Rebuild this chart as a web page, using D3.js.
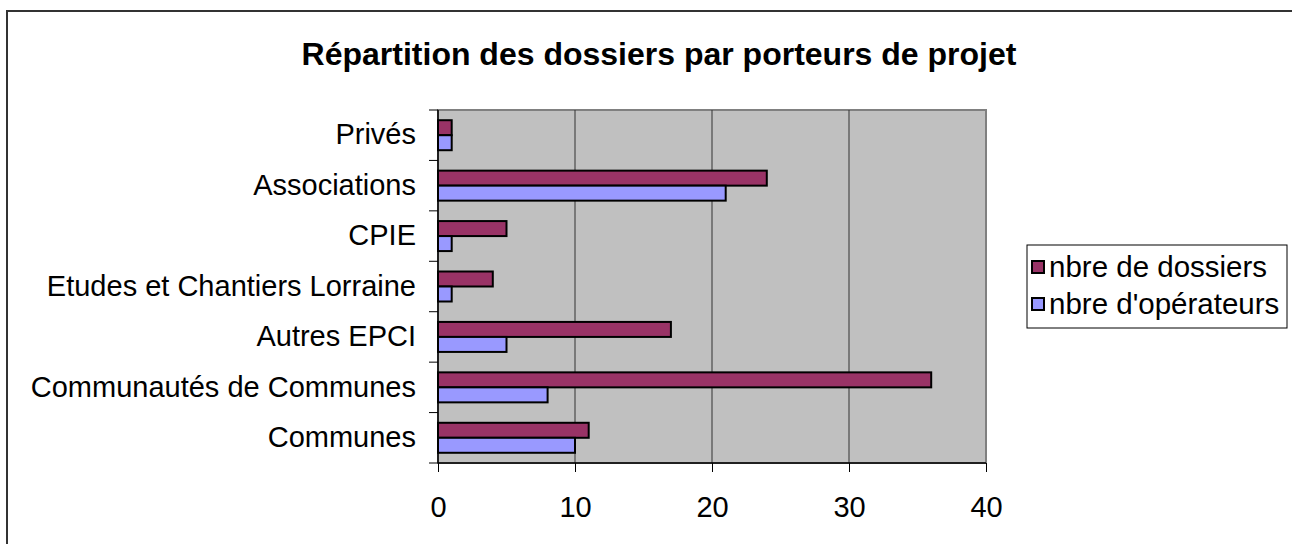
<!DOCTYPE html>
<html>
<head>
<meta charset="utf-8">
<script src="https://cdn.jsdelivr.net/npm/d3@7"></script>
<style>
  body { margin: 0; background: #fff; }
  svg { display: block; font-family: "Liberation Sans", Arial, sans-serif; }
</style>
</head>
<body>
<div id="chart"></div>
<script>
const categories = ['Privés', 'Associations', 'CPIE', 'Etudes et Chantiers Lorraine', 'Autres EPCI', 'Communautés de Communes', 'Communes']
const dossiers = [1, 24, 5, 4, 17, 36, 11]
const operateurs = [1, 21, 1, 1, 5, 8, 10]
const seriesNames = ['nbre de dossiers', "nbre d'opérateurs"]
const xTicks = [0, 10, 20, 30, 40]

const W = 1292, H = 544
const plot = { left: 438, top: 110, right: 986, bottom: 463 }

const svg = d3.select('#chart')
  .append('svg')
    .attr('width', W)
    .attr('height', H)

// outer frame, runs off the right and bottom edges
svg.append('rect')
  .attr('x', 7).attr('y', 11)
  .attr('width', W).attr('height', H)
  .attr('fill', '#fff')
  .attr('stroke', '#333')
  .attr('stroke-width', 2)

svg.append('text')
  .attr('x', 659).attr('y', 65)
  .attr('text-anchor', 'middle')
  .attr('font-size', 32)
  .attr('font-weight', 'bold')
  .text('Répartition des dossiers par porteurs de projet')

const x = d3.scaleLinear()
  .domain([0, 40])
  .range([plot.left, plot.right])

const y = d3.scaleBand()
  .domain(categories)
  .range([plot.top, plot.bottom])

const barH = 15
const offset = (y.bandwidth() - barH * 2) / 2

// plot area
svg.append('rect')
  .attr('x', plot.left).attr('y', plot.top)
  .attr('width', plot.right - plot.left)
  .attr('height', plot.bottom - plot.top)
  .attr('fill', '#c0c0c0')
  .attr('stroke', '#808080')
  .attr('stroke-width', 2)

// gridlines
svg.append('g')
  .selectAll('line')
  .data(xTicks.slice(1, -1))
  .enter()
  .append('line')
    .attr('x1', d => x(d)).attr('x2', d => x(d))
    .attr('y1', plot.top).attr('y2', plot.bottom)
    .attr('stroke', '#333')
    .attr('stroke-width', 1)

const rows = categories.map((c, i) => ({ c, values: [dossiers[i], operateurs[i]] }))
const colors = ['#993366', '#9999ff']

rows.forEach(row => {
  row.values.forEach((v, k) => {
    svg.append('rect')
      .attr('x', x(0))
      .attr('y', y(row.c) + offset + k * barH)
      .attr('width', x(v) - x(0))
      .attr('height', barH)
      .attr('fill', colors[k])
      .attr('stroke', '#000')
      .attr('stroke-width', 2)
  })
})

// axes
const yAxis = svg.append('g')
  .attr('transform', `translate(${plot.left},0)`)
  .call(d3.axisLeft(y).tickSize(0).tickPadding(22))
yAxis.select('.domain').remove()
yAxis.selectAll('text').attr('font-size', 29).attr('fill', '#000')

svg.append('g')
  .selectAll('line')
  .data(d3.range(categories.length + 1))
  .enter()
  .append('line')
    .attr('x1', plot.left - 9).attr('x2', plot.left)
    .attr('y1', i => plot.top + i * y.step())
    .attr('y2', i => plot.top + i * y.step())
    .attr('stroke', '#000')
    .attr('stroke-width', 1)

svg.append('line')
  .attr('x1', plot.left).attr('x2', plot.left)
  .attr('y1', plot.top).attr('y2', plot.bottom)
  .attr('stroke', '#000').attr('stroke-width', 1.5)

const xAxis = svg.append('g')
  .attr('transform', `translate(0,${plot.bottom})`)
  .call(d3.axisBottom(x).tickValues(xTicks).tickSize(9).tickPadding(24))
xAxis.select('.domain').remove()
xAxis.selectAll('line').attr('stroke', '#000')
xAxis.selectAll('text').attr('font-size', 29).attr('fill', '#000')

svg.append('line')
  .attr('x1', plot.left).attr('x2', plot.right)
  .attr('y1', plot.bottom).attr('y2', plot.bottom)
  .attr('stroke', '#000').attr('stroke-width', 1.5)

// legend
const legend = svg.append('g')
legend.append('rect')
  .attr('x', 1027).attr('y', 245)
  .attr('width', 260).attr('height', 83)
  .attr('fill', '#fff')
  .attr('stroke', '#000')
  .attr('stroke-width', 1)

seriesNames.forEach((name, k) => {
  const cy = 267 + k * 37
  legend.append('rect')
    .attr('x', 1032).attr('y', cy - 6)
    .attr('width', 12).attr('height', 12)
    .attr('fill', colors[k])
    .attr('stroke', '#000')
    .attr('stroke-width', 2)
  legend.append('text')
    .attr('x', 1049).attr('y', cy + 10)
    .attr('font-size', 29.5)
    .text(name)
})
</script>
</body>
</html>
